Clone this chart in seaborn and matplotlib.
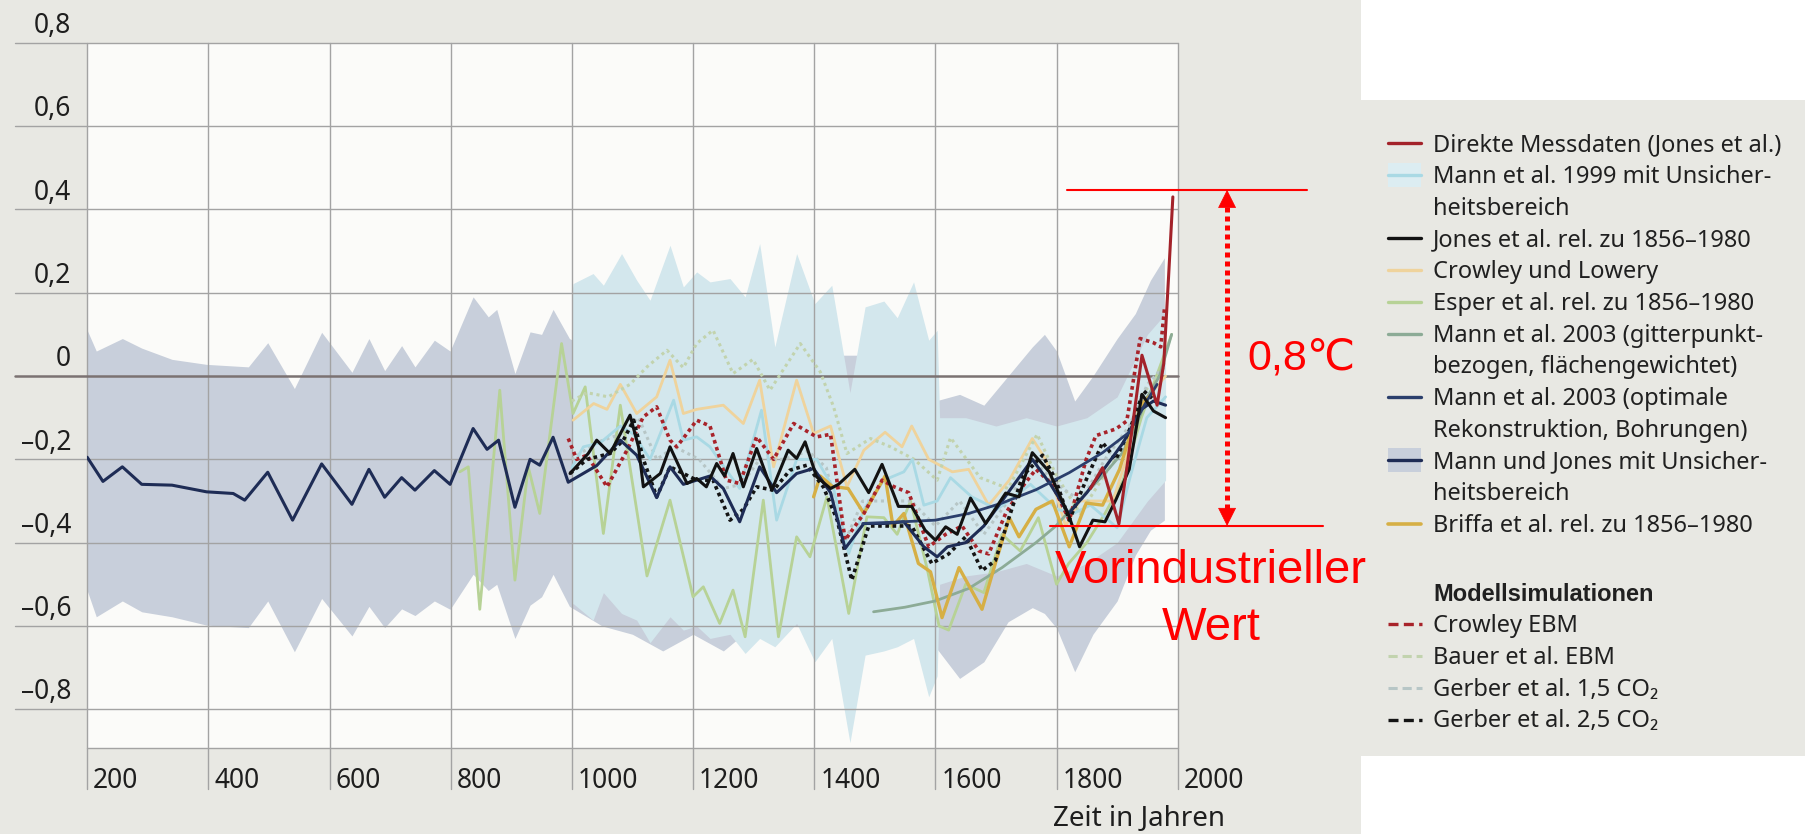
import matplotlib
matplotlib.use("Agg")
import matplotlib.pyplot as plt
import seaborn as sns
from matplotlib.transforms import ScaledTranslation
from matplotlib.patches import Rectangle
from matplotlib.lines import Line2D

# ---------------- data (year, anomaly °C) ----------------
mann_jones_line = [(200,-0.195),(226,-0.253),(258,-0.218),(290,-0.26),(340,-0.262),(397,-0.278),(441,-0.282),(460,-0.298),
    (498,-0.231),(539,-0.346),(587,-0.211),(637,-0.308),(665,-0.224),(691,-0.291),(719,-0.244),(741,-0.274),(773,-0.227),
    (799,-0.26),(837,-0.126),(860,-0.176),(879,-0.154),(906,-0.315),(931,-0.2),(947,-0.214),(969,-0.147),(994,-0.255),
    (1041,-0.215),(1080,-0.154),(1107,-0.19),(1140,-0.292),(1162,-0.218),(1184,-0.26),(1206,-0.25),(1228,-0.24),(1250,-0.27),
    (1277,-0.35),(1310,-0.218),(1338,-0.28),(1371,-0.234),(1399,-0.222),(1427,-0.28),(1451,-0.414),(1482,-0.354),(1515,-0.354),
    (1548,-0.35),(1581,-0.41),(1603,-0.434),(1620,-0.41),(1650,-0.40),(1680,-0.36),(1710,-0.30),(1740,-0.24),(1760,-0.2),
    (1790,-0.26),(1820,-0.33),(1850,-0.28),(1880,-0.22),(1910,-0.16),(1940,-0.08),(1960,-0.06),(1980,-0.07)]

# (year, lower, upper)
mann_jones_band = [(200,-0.515,0.11),(215,-0.578,0.06),(258,-0.54,0.09),(290,-0.566,0.067),(340,-0.578,0.04),(397,-0.598,0.028),
    (466,-0.604,0.022),(498,-0.54,0.08),(542,-0.662,-0.03),(587,-0.534,0.105),(637,-0.624,0.009),(665,-0.553,0.09),
    (691,-0.604,0.013),(719,-0.559,0.073),(741,-0.575,0.022),(773,-0.54,0.086),(799,-0.56,0.06),(837,-0.476,0.19),
    (862,-0.515,0.142),(876,-0.50,0.16),(906,-0.63,0.006),(931,-0.55,0.106),(950,-0.53,0.10),(969,-0.476,0.16),
    (996,-0.553,0.09),(1050,-0.6,0.05),(1100,-0.62,0.05),(1150,-0.66,0.05),(1200,-0.62,0.05),(1250,-0.66,0.05),
    (1300,-0.6,0.05),(1400,-0.6,0.05),(1500,-0.6,0.05),(1560,-0.62,0.0),(1600,-0.65,-0.06),(1640,-0.726,-0.044),
    (1680,-0.686,-0.07),(1720,-0.59,0.0),(1760,-0.556,0.07),(1780,-0.57,0.1),(1800,-0.605,0.06),(1830,-0.71,-0.06),
    (1860,-0.62,0.0),(1900,-0.54,0.09),(1930,-0.43,0.15),(1955,-0.37,0.23),(1978,-0.346,0.284)]

mann99_band = [(1000,-0.55,0.2),(1002,-0.546,0.222),(1035,-0.586,0.246),(1052,-0.52,0.218),(1082,-0.57,0.294),(1107,-0.586,0.23),
    (1129,-0.64,0.182),(1162,-0.578,0.314),(1184,-0.61,0.214),(1206,-0.6,0.25),(1228,-0.63,0.226),(1261,-0.62,0.234),
    (1286,-0.666,0.19),(1310,-0.63,0.318),(1335,-0.65,0.07),(1371,-0.594,0.294),(1401,-0.686,0.174),(1429,-0.63,0.218),
    (1459,-0.88,-0.04),(1484,-0.67,0.166),(1515,-0.66,0.18),(1537,-0.65,0.14),(1564,-0.63,0.226),(1589,-0.77,0.086),
    (1603,-0.72,0.11),(1607,-0.5,-0.1),(1650,-0.48,-0.1),(1700,-0.47,-0.12),(1750,-0.45,-0.1),(1800,-0.48,-0.12),
    (1850,-0.45,-0.1),(1900,-0.4,-0.05),(1950,-0.3,0.1),(1980,-0.25,0.15)]

mann99_line = [(1000,-0.22),(1019,-0.17),(1047,-0.16),(1080,-0.12),(1102,-0.14),(1129,-0.2),(1168,-0.058),(1184,-0.154),
    (1206,-0.146),(1228,-0.17),(1255,-0.226),(1277,-0.27),(1313,-0.082),(1338,-0.346),(1371,-0.2),(1404,-0.2),(1432,-0.27),
    (1457,-0.426),(1482,-0.32),(1515,-0.25),(1548,-0.23),(1562,-0.2),(1581,-0.31),(1603,-0.3),(1625,-0.244),(1660,-0.29),
    (1702,-0.32),(1757,-0.26),(1801,-0.32),(1828,-0.33),(1856,-0.31),(1900,-0.364),(1922,-0.24),(1949,-0.1),(1980,-0.05)]

jones = [(997,-0.234),(1027,-0.186),(1041,-0.154),(1063,-0.186),(1096,-0.094),(1110,-0.17),(1118,-0.266),(1146,-0.234),
    (1162,-0.17),(1190,-0.258),(1206,-0.246),(1222,-0.266),(1239,-0.21),(1252,-0.24),(1266,-0.186),(1283,-0.266),(1305,-0.174),
    (1330,-0.274),(1357,-0.178),(1371,-0.198),(1385,-0.158),(1404,-0.242),(1427,-0.27),(1440,-0.26),(1467,-0.224),(1490,-0.28),
    (1512,-0.212),(1539,-0.313),(1561,-0.313),(1583,-0.37),(1600,-0.394),(1617,-0.362),(1636,-0.38),(1658,-0.293),(1683,-0.354),
    (1716,-0.281),(1738,-0.29),(1760,-0.184),(1788,-0.23),(1821,-0.338),(1838,-0.41),(1860,-0.346),(1880,-0.35),(1898,-0.297),
    (1920,-0.224),(1941,-0.044),(1960,-0.084),(1980,-0.1)]

crowley_lowery = [(1002,-0.106),(1036,-0.066),(1058,-0.08),(1080,-0.02),(1107,-0.09),(1140,-0.05),(1162,0.038),(1184,-0.09),
    (1206,-0.08),(1250,-0.07),(1283,-0.114),(1310,-0.01),(1333,-0.218),(1371,-0.01),(1399,-0.138),(1427,-0.12),(1454,-0.266),
    (1482,-0.178),(1517,-0.135),(1545,-0.17),(1561,-0.12),(1589,-0.2),(1628,-0.23),(1655,-0.224),(1688,-0.31),(1722,-0.25),
    (1760,-0.15),(1782,-0.2),(1815,-0.36),(1838,-0.3),(1865,-0.3),(1893,-0.3),(1915,-0.2),(1933,-0.084),(1955,-0.044),(1980,0.0)]

esper = [(815,-0.23),(829,-0.218),(848,-0.56),(881,-0.034),(906,-0.49),(928,-0.218),(947,-0.33),(983,0.078),(1002,-0.09),
    (1022,-0.026),(1052,-0.378),(1080,-0.07),(1124,-0.48),(1162,-0.298),(1200,-0.53),(1217,-0.506),(1244,-0.594),(1266,-0.514),
    (1286,-0.626),(1316,-0.298),(1341,-0.626),(1371,-0.386),(1393,-0.434),(1421,-0.29),(1457,-0.57),(1487,-0.338),(1515,-0.34),
    (1537,-0.38),(1559,-0.3),(1587,-0.466),(1606,-0.6),(1622,-0.61),(1650,-0.5),(1680,-0.52),(1710,-0.38),(1740,-0.42),
    (1770,-0.34),(1800,-0.5),(1820,-0.45),(1850,-0.4),(1880,-0.33),(1910,-0.25),(1940,-0.1),(1960,-0.02),(1990,0.1)]

mann03_grid = [(1498,-0.566),(1550,-0.555),(1600,-0.54),(1655,-0.51),(1710,-0.46),(1766,-0.40),(1799,-0.36),(1838,-0.297),
    (1876,-0.24),(1909,-0.184),(1931,-0.12),(1950,-0.05),(1970,0.0),(1990,0.1)]

mann03_opt = [(1480,-0.354),(1545,-0.35),(1600,-0.346),(1655,-0.33),(1710,-0.305),(1766,-0.273),(1821,-0.232),(1876,-0.184),
    (1920,-0.135),(1949,-0.06),(1966,-0.02)]

briffa = [(1399,-0.29),(1410,-0.24),(1430,-0.265),(1456,-0.27),(1482,-0.33),(1517,-0.24),(1530,-0.36),(1548,-0.33),(1572,-0.45),
    (1592,-0.47),(1611,-0.58),(1639,-0.46),(1677,-0.56),(1699,-0.45),(1722,-0.34),(1738,-0.386),(1766,-0.32),(1793,-0.3),
    (1821,-0.41),(1849,-0.305),(1876,-0.31),(1904,-0.224),(1926,-0.12),(1945,-0.06),(1960,-0.04)]

direct = [(1856,-0.27),(1876,-0.22),(1903,-0.355),(1918,-0.2),(1941,0.05),(1966,-0.07),(1977,0.03),(1985,0.24),(1992,0.43)]

crowley_ebm = [(994,-0.15),(1008,-0.2),(1025,-0.19),(1058,-0.266),(1091,-0.178),(1118,-0.098),(1140,-0.074),(1162,-0.154),
    (1173,-0.17),(1190,-0.138),(1206,-0.106),(1228,-0.12),(1255,-0.25),(1277,-0.258),(1305,-0.146),(1333,-0.2),(1366,-0.114),
    (1404,-0.146),(1427,-0.14),(1451,-0.394),(1482,-0.33),(1512,-0.25),(1532,-0.266),(1556,-0.28),(1589,-0.41),(1617,-0.38),
    (1644,-0.36),(1672,-0.42),(1688,-0.427),(1716,-0.33),(1744,-0.265),(1766,-0.224),(1793,-0.26),(1821,-0.346),(1849,-0.2),
    (1865,-0.143),(1898,-0.127),(1916,-0.108),(1938,0.09),(1960,0.08),(1972,0.07),(1978,0.16)]

gerber25 = [(997,-0.234),(1025,-0.2),(1063,-0.186),(1085,-0.154),(1102,-0.106),(1118,-0.2),(1140,-0.29),(1162,-0.218),
    (1206,-0.25),(1233,-0.25),(1261,-0.346),(1283,-0.32),(1305,-0.266),(1333,-0.274),(1360,-0.226),(1388,-0.214),(1415,-0.266),
    (1438,-0.346),(1462,-0.49),(1490,-0.36),(1523,-0.36),(1561,-0.36),(1594,-0.45),(1622,-0.427),(1650,-0.386),(1677,-0.467),
    (1699,-0.443),(1722,-0.338),(1744,-0.24),(1777,-0.19),(1799,-0.25),(1821,-0.346),(1849,-0.249),(1876,-0.16),(1898,-0.2),
    (1922,-0.124),(1944,-0.036),(1971,-0.07)]

bauer = [(1000,-0.06),(1025,-0.04),(1060,-0.05),(1096,-0.02),(1124,0.022),(1157,0.062),(1184,0.02),(1206,0.078),(1233,0.11),
    (1266,0.006),(1299,0.04),(1327,-0.034),(1377,0.078),(1410,0.01),(1432,-0.074),(1454,-0.186),(1493,-0.15),(1526,-0.17),
    (1565,-0.2),(1603,-0.25),(1625,-0.148),(1674,-0.244),(1720,-0.27),(1768,-0.14),(1800,-0.24),(1839,-0.33),(1878,-0.24),
    (1916,-0.16),(1944,-0.04),(1977,0.02)]

gerber15 = [(1000,-0.2),(1040,-0.16),(1080,-0.14),(1110,-0.1),(1140,-0.2),(1170,-0.17),(1210,-0.2),(1250,-0.27),(1280,-0.26),
    (1310,-0.2),(1350,-0.2),(1390,-0.18),(1420,-0.22),(1450,-0.4),(1480,-0.3),(1520,-0.3),(1560,-0.3),(1600,-0.36),(1640,-0.3),
    (1680,-0.38),(1720,-0.3),(1760,-0.2),(1800,-0.26),(1840,-0.3),(1880,-0.2),(1920,-0.12),(1950,-0.02),(1975,0.02)]

x_ticks = [200, 400, 600, 800, 1000, 1200, 1400, 1600, 1800, 2000]
x_tick_labels = ["200", "400", "600", "800", "1000", "1200", "1400", "1600", "1800", "2000"]
y_ticks = [-0.8, -0.6, -0.4, -0.2, 0.0, 0.2, 0.4, 0.6, 0.8]
y_tick_labels = ["–0,8", "–0,6", "–0,4", "–0,2", "0", "0,2", "0,4", "0,6", "0,8"]

legend_rows = [
    ["Direkte Messdaten (Jones et al.)"],
    ["Mann et al. 1999 mit Unsicher-", "heitsbereich"],
    ["Jones et al. rel. zu 1856–1980"],
    ["Crowley und Lowery"],
    ["Esper et al. rel. zu 1856–1980"],
    ["Mann et al. 2003 (gitterpunkt-", "bezogen, flächengewichtet)"],
    ["Mann et al. 2003 (optimale", "Rekonstruktion, Bohrungen)"],
    ["Mann und Jones mit Unsicher-", "heitsbereich"],
    ["Briffa et al. rel. zu 1856–1980"],
]
model_header = "Modellsimulationen"
model_rows = ["Crowley EBM", "Bauer et al. EBM", "Gerber et al. 1,5 CO₂", "Gerber et al. 2,5 CO₂"]

PREINDUSTRIAL = -0.36
MODERN = 0.447
delta_label = "0,8℃"
preind_label = ["Vorindustrieller", "Wert"]
x_label = "Zeit in Jahren"

# ---------------- styles ----------------
PAGE = "#e8e8e3"
PLOT_BG = "#fbfbf9"
GRID = "#a3a3a3"
C_DIRECT = "#a3222a"
C_M99 = "#a9d9e4"
C_M99_BAND = "#d3e7ed"
C_JONES = "#121212"
C_CL = "#efd39c"
C_ESPER = "#b7d296"
C_M03G = "#8cab96"
C_M03O = "#2b3f6c"
C_MJ = "#1e2c55"
C_MJ_BAND = "#c8cfdb"
C_BRIFFA = "#d6af45"
C_CEBM = "#a8232a"
C_BAUER = "#c2d3ae"
C_G15 = "#b7c6c6"
C_G25 = "#141414"
DOT = (0, (1, 1))
DOT_LIGHT = (0, (1, 1.2))

sns.set_theme(style="white")
plt.rcParams["font.family"] = ["Noto Sans", "DejaVu Sans"]

W, H, DPI = 1809, 834, 100
fig = plt.figure(figsize=(W / DPI, H / DPI), dpi=DPI, facecolor="white")

# background panels (pixel space)
bg = fig.add_axes([0, 0, 1, 1], zorder=0)
bg.set_xlim(0, W)
bg.set_ylim(H, 0)
bg.axis("off")
bg.add_patch(Rectangle((0, 0), 1361, H, color=PAGE, lw=0))
bg.add_patch(Rectangle((1338, 100), 1805 - 1338, 756 - 100, color=PAGE, lw=0))

# main axes
L, R, T, B = 87.2, 1177.7, 42.8, 748.0
ax = fig.add_axes([L / W, 1 - B / H, (R - L) / W, (B - T) / H], zorder=2)
ax.set_facecolor(PLOT_BG)
ax.set_xlim(200, 2000)
ax.set_ylim(-0.893, 0.8)
for s in ax.spines.values():
    s.set_visible(False)


def unzip(pairs):
    return [p[0] for p in pairs], [p[1] for p in pairs]


# bands
bx = [p[0] for p in mann_jones_band]
ax.fill_between(bx, [p[1] for p in mann_jones_band], [p[2] for p in mann_jones_band],
                color=C_MJ_BAND, lw=0, zorder=1)
cx = [p[0] for p in mann99_band]
ax.fill_between(cx, [p[1] for p in mann99_band], [p[2] for p in mann99_band],
                color=C_M99_BAND, lw=0, zorder=1.1)

# grid
x_ext = (15 - L) / (R - L)
for v in y_ticks:
    if v == 0:
        ax.axhline(v, xmin=x_ext, xmax=1, color="#7b7272", lw=1.8, clip_on=False, zorder=1.6)
    else:
        ax.axhline(v, xmin=x_ext, xmax=1, color=GRID, lw=1.0, clip_on=False, zorder=1.5)
ax.axhline(-0.893, xmin=0, xmax=1, color=GRID, lw=1.0, clip_on=False, zorder=1.5)
y_ext = -(789 - B) / (B - T)
for xv in x_ticks:
    ax.axvline(xv, ymin=y_ext, ymax=1, color=GRID, lw=1.0, clip_on=False, zorder=1.5)


def line(pairs, color, lw, ls="-", z=2.0):
    xs, ys = unzip(pairs)
    sns.lineplot(x=xs, y=ys, ax=ax, color=color, linewidth=lw, linestyle=ls,
                 zorder=z, sort=False, estimator=None, errorbar=None, legend=False)


line(esper, C_ESPER, 2.0, z=2.0)
line(crowley_lowery, C_CL, 2.0, z=2.05)
line(bauer, C_BAUER, 2.2, DOT_LIGHT, z=2.1)
line(gerber15, C_G15, 2.2, DOT_LIGHT, z=2.1)
line(mann99_line, C_M99, 2.0, z=2.2)
line(mann03_grid, C_M03G, 2.0, z=2.3)
line(briffa, C_BRIFFA, 2.4, z=2.5)
line(crowley_ebm, C_CEBM, 2.6, DOT, z=3.0)
line(gerber25, C_G25, 2.6, DOT, z=3.05)
line(mann_jones_line, C_MJ, 2.2, z=3.2)
line(mann03_opt, C_M03O, 2.0, z=3.3)
line(jones, C_JONES, 2.2, z=3.5)
line(direct, C_DIRECT, 2.2, z=4.0)

# ticks
ax.set_xticks(x_ticks, x_tick_labels)
ax.set_yticks(y_ticks, y_tick_labels)
ax.tick_params(axis="both", length=0, labelsize=19, labelcolor="#1e1e1e")
ax.tick_params(axis="x", pad=23.6)
ax.tick_params(axis="y", pad=11.5)
ax.grid(False)
for lab in ax.get_xticklabels():
    lab.set_ha("left")
    lab.set_va("center")
    lab.set_transform(lab.get_transform() + ScaledTranslation(6 / DPI, 0, fig.dpi_scale_trans))
for lab in ax.get_yticklabels():
    lab.set_va("center")
    lab.set_transform(lab.get_transform() + ScaledTranslation(0, 16.8 / DPI, fig.dpi_scale_trans))

ax.set_xlabel(x_label, fontsize=20, color="#1e1e1e", ha="left", va="baseline")
ax.xaxis.set_label_coords((1053 - L) / (R - L), (B - 826) / (B - T))
ax.set_ylabel("")

# red annotation
ax.plot([1817, 2214], [MODERN, MODERN], color="red", lw=1.5, clip_on=False, zorder=6)
ax.plot([1790, 2240], [PREINDUSTRIAL, PREINDUSTRIAL], color="red", lw=1.5, clip_on=False, zorder=6)
AX_X = 2081.5
head = 0.041
ax.plot([AX_X, AX_X], [PREINDUSTRIAL + head, MODERN - head], color="red", lw=3.6,
        linestyle=(0, (1, 0.8)), clip_on=False, zorder=6)
for tip, tail in [(MODERN, MODERN - head), (PREINDUSTRIAL, PREINDUSTRIAL + head)]:
    ax.annotate("", xy=(AX_X, tip), xytext=(AX_X, tail), annotation_clip=False, zorder=6,
                arrowprops=dict(arrowstyle="-|>,head_length=1.22,head_width=0.61", mutation_scale=10,
                                color="red", lw=0.5, shrinkA=0, shrinkB=0))
ax.text(2114.5, 0.041, delta_label, color="red", fontsize=31, ha="left", va="center",
        family=["Liberation Sans", "DejaVu Sans"], clip_on=False, zorder=7)
ax.text(2055, -0.4975, preind_label[0], color="red", fontsize=34, ha="center", va="baseline",
        family=["Liberation Sans", "DejaVu Sans"], clip_on=False, zorder=7)
ax.text(2055, -0.634, preind_label[1], color="red", fontsize=34, ha="center", va="baseline",
        family=["Liberation Sans", "DejaVu Sans"], clip_on=False, zorder=7)

# legend (manual, pixel space)
LX0, LX1, TX = 1388, 1421, 1433
PITCH = 31.7
FS = 17
TXT = "#202020"
styles = [
    dict(color=C_DIRECT, lw=2.4),
    dict(color=C_M99, lw=2.4, band="#dcedf2"),
    dict(color=C_JONES, lw=2.4),
    dict(color=C_CL, lw=2.4),
    dict(color=C_ESPER, lw=2.4),
    dict(color=C_M03G, lw=2.4),
    dict(color=C_M03O, lw=2.4),
    dict(color=C_MJ, lw=2.4, band=C_MJ_BAND),
    dict(color=C_BRIFFA, lw=2.6),
]
row = 0
for lines_txt, st in zip(legend_rows, styles):
    yc = 143.3 + row * PITCH
    if "band" in st:
        bg.add_patch(Rectangle((LX0, yc - 12), LX1 - LX0, 24, color=st["band"], lw=0))
    bg.add_line(Line2D([LX0, LX1], [yc, yc], color=st["color"], lw=st["lw"]))
    for k, t in enumerate(lines_txt):
        bg.text(TX, yc + k * PITCH + 8, t, fontsize=FS, color=TXT, ha="left", va="baseline")
    row += len(lines_txt)

yh = 592.7
bg.text(TX, yh + 8, model_header, fontsize=FS, fontweight="bold", color=TXT, ha="left", va="baseline",
        family=["Liberation Sans", "DejaVu Sans"])
model_styles = [(C_CEBM, 2.4), (C_BAUER, 2.2), (C_G15, 2.2), (C_G25, 2.4)]
for i, (t, (c, lw)) in enumerate(zip(model_rows, model_styles)):
    yc = yh + (i + 1) * PITCH
    bg.add_line(Line2D([LX0, LX1 + 1], [yc, yc], color=c, lw=lw, linestyle=(0, (3, 1.6))))
    bg.text(TX, yc + 8, t, fontsize=FS, color=TXT, ha="left", va="baseline")

fig.savefig("out.png", dpi=DPI, facecolor=fig.get_facecolor())
